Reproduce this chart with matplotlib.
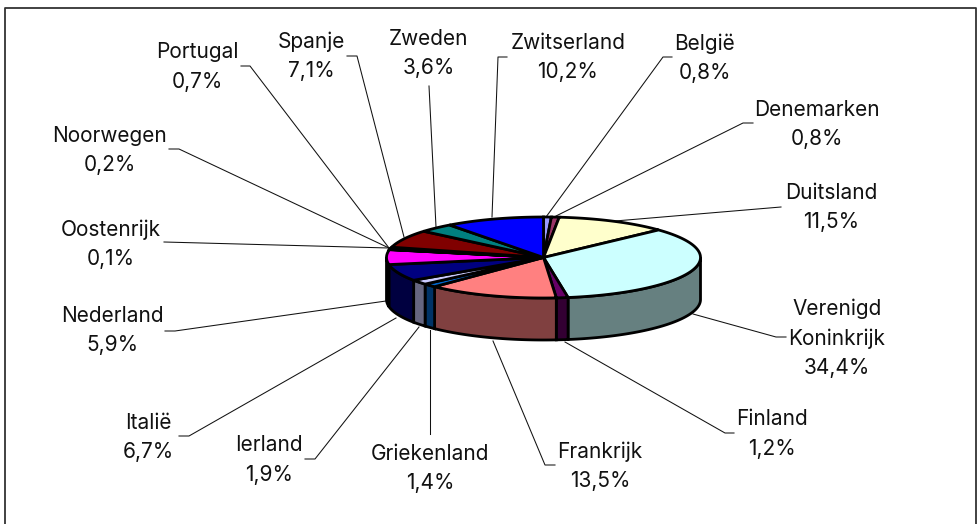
import matplotlib
matplotlib.use('Agg')
import matplotlib.pyplot as plt
from matplotlib.patches import Polygon
import numpy as np

# share per country, clockwise from 12 o'clock
countries = ['België', 'Denemarken', 'Duitsland', 'Verenigd\nKoninkrijk', 'Finland', 'Frankrijk',
             'Griekenland', 'Ierland', 'Italië', 'Nederland', 'Oostenrijk', 'Noorwegen',
             'Portugal', 'Spanje', 'Zweden', 'Zwitserland']
shares = [0.8, 0.8, 11.5, 34.4, 1.2, 13.5, 1.4, 1.9, 6.7, 5.9, 0.1, 0.2, 0.7, 7.1, 3.6, 10.2]
colors = ['#9999FF', '#993366', '#FFFFCC', '#CCFFFF', '#660066', '#FF8080', '#0066CC', '#CCCCFF',
          '#000080', '#FF00FF', '#FFFF00', '#00FFFF', '#800080', '#800000', '#008080', '#0000FF']

# label centres in pixels
label_x = [705, 817, 831, 837, 772, 600, 430, 269, 148, 112, 111, 110, 197, 311, 429, 568]
label_y = [57, 123.5, 206.5, 337, 433, 465.5, 467.5, 459, 436.5, 329.5, 243, 149.5, 66, 55.5, 52.5, 56.5]

# leader lines in pixels, label end first
leaders = [
    [(672, 57), (663, 57), (546, 217)],
    [(753, 123), (743, 123), (556, 216)],
    [(781, 207), (615, 221)],
    [(786, 337), (776, 337), (693, 314)],
    [(734, 433), (725, 433), (565, 342)],
    [(555, 465), (545, 465), (493, 341)],
    [(430, 434), (430, 330)],
    [(305, 459), (315, 459), (419, 327)],
    [(179, 436), (189, 436), (396, 318)],
    [(165, 331), (175, 331), (386, 301)],
    [(164, 242), (389, 248)],
    [(169, 149), (179, 149), (389, 248)],
    [(241, 66), (250, 66), (389, 248)],
    [(347, 56), (357, 56), (404, 237)],
    [(429, 86), (436, 227)],
    [(507, 57), (498, 57), (492, 217)],
]

cx, cy = 543.5, 257.5
rx, ry = 157, 40.5
depth = 42
edge_lw = 2.0


def rim(a, b, dy=0):
    t = np.radians(np.linspace(a, b, 80))
    return np.column_stack([cx + rx * np.sin(t), cy - ry * np.cos(t) + dy])


def darker(c):
    return tuple(v * 0.5 for v in matplotlib.colors.to_rgb(c))


fig = plt.figure(figsize=(9.78, 5.24), dpi=100)
ax = fig.add_axes([0, 0, 1, 1])
ax.set_xlim(0, 978)
ax.set_ylim(524, 0)
ax.axis('off')

# chart frame, bottom edge is cut off in the original
ax.plot([4.5, 4.5, 976, 976], [524, 7.5, 7.5, 524], color='#333333', lw=1.3)

for seg in leaders:
    seg = np.array(seg)
    ax.plot(seg[:, 0], seg[:, 1], color='#111111', lw=0.75, zorder=1)

edges = np.concatenate([[0], np.cumsum(shares)]) / sum(shares) * 360

# front wall first
for i in range(len(shares)):
    a = max(edges[i], 90)
    b = min(edges[i + 1], 270)
    if b <= a:
        continue
    pts = np.vstack([rim(a, b), rim(a, b, depth)[::-1]])
    ax.add_patch(Polygon(pts, closed=True, fc=darker(colors[i]), ec='black', lw=edge_lw, zorder=2))

# top face
for i in range(len(shares)):
    pts = np.vstack([[(cx, cy)], rim(edges[i], edges[i + 1])])
    ax.add_patch(Polygon(pts, closed=True, fc=colors[i], ec='black', lw=edge_lw, zorder=3))

for i in range(len(shares)):
    txt = countries[i] + '\n' + ('%.1f%%' % shares[i]).replace('.', ',')
    ax.text(label_x[i], label_y[i] + 1, txt, ha='center', va='center', ma='center',
            fontsize=15, family='Inter', color='#111111', linespacing=1.58, zorder=4)

plt.savefig('out.png', dpi=100)
